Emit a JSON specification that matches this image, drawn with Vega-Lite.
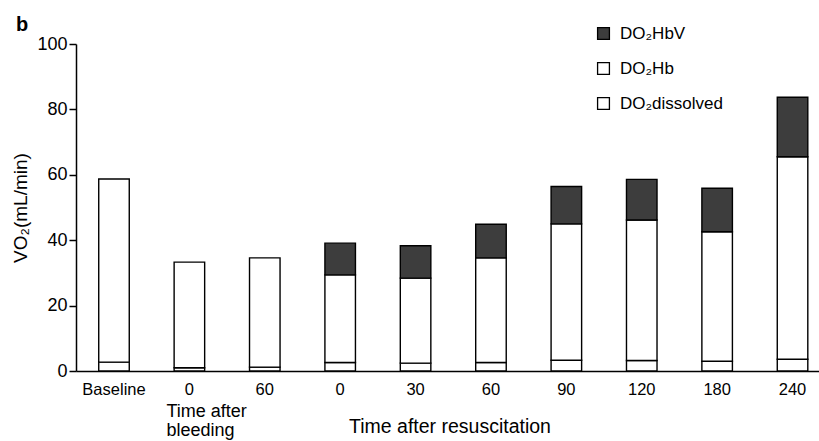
{
  "$schema": "https://vega.github.io/schema/vega-lite/v6.json",
  "width": 743,
  "height": 327,
  "autosize": {"type": "none"},
  "padding": {"left": 76, "top": 44, "right": 0, "bottom": 70},
  "background": "white",
  "config": {"view": {"stroke": null}, "font": "Liberation Sans"},
  "title": {"text": "b", "anchor": "start", "frame": "group", "dx": -60, "dy": 19, "offset": -7, "baseline": "alphabetic", "fontSize": 20, "fontWeight": "bold", "font": "Liberation Sans", "color": "black"},
  "encoding": {
    "x": {
      "field": "t", "type": "nominal", "sort": null,
      "scale": {"paddingInner": 0.595, "paddingOuter": 0.225, "align": 0.67},
      "axis": {
        "title": "Time after resuscitation",
        "labelExpr": "split(datum.label,'|')[1]",
        "labelAngle": 0, "ticks": false, "labelPadding": 10,
        "labelFontSize": 16.5, "labelColor": "black", "labelFont": "Liberation Sans",
        "domainColor": "black", "domainWidth": 1.5, "grid": false,
        "titleFontSize": 19.5, "titleFontWeight": "normal", "titleFont": "Liberation Sans", "titleColor": "black",
        "titleX": 373.5, "titleY": 61, "titleBaseline": "alphabetic", "titleAlign": "center"
      }
    }
  },
  "layer": [
    {
      "data": {"values": [
        {"t": "01|Baseline", "c": "DO₂dissolved", "v": 2.7, "k": 1},
        {"t": "01|Baseline", "c": "DO₂Hb", "v": 56.0, "k": 2},
        {"t": "02|0", "c": "DO₂dissolved", "v": 1.0, "k": 1},
        {"t": "02|0", "c": "DO₂Hb", "v": 32.3, "k": 2},
        {"t": "03|60", "c": "DO₂dissolved", "v": 1.2, "k": 1},
        {"t": "03|60", "c": "DO₂Hb", "v": 33.4, "k": 2},
        {"t": "04|0", "c": "DO₂dissolved", "v": 2.6, "k": 1},
        {"t": "04|0", "c": "DO₂Hb", "v": 26.8, "k": 2},
        {"t": "04|0", "c": "DO₂HbV", "v": 9.7, "k": 3},
        {"t": "05|30", "c": "DO₂dissolved", "v": 2.4, "k": 1},
        {"t": "05|30", "c": "DO₂Hb", "v": 26.0, "k": 2},
        {"t": "05|30", "c": "DO₂HbV", "v": 9.9, "k": 3},
        {"t": "06|60", "c": "DO₂dissolved", "v": 2.6, "k": 1},
        {"t": "06|60", "c": "DO₂Hb", "v": 32.0, "k": 2},
        {"t": "06|60", "c": "DO₂HbV", "v": 10.3, "k": 3},
        {"t": "07|90", "c": "DO₂dissolved", "v": 3.3, "k": 1},
        {"t": "07|90", "c": "DO₂Hb", "v": 41.7, "k": 2},
        {"t": "07|90", "c": "DO₂HbV", "v": 11.4, "k": 3},
        {"t": "08|120", "c": "DO₂dissolved", "v": 3.2, "k": 1},
        {"t": "08|120", "c": "DO₂Hb", "v": 43.0, "k": 2},
        {"t": "08|120", "c": "DO₂HbV", "v": 12.4, "k": 3},
        {"t": "09|180", "c": "DO₂dissolved", "v": 3.0, "k": 1},
        {"t": "09|180", "c": "DO₂Hb", "v": 39.6, "k": 2},
        {"t": "09|180", "c": "DO₂HbV", "v": 13.3, "k": 3},
        {"t": "10|240", "c": "DO₂dissolved", "v": 3.6, "k": 1},
        {"t": "10|240", "c": "DO₂Hb", "v": 61.9, "k": 2},
        {"t": "10|240", "c": "DO₂HbV", "v": 18.2, "k": 3}
      ]},
      "mark": {"type": "bar", "stroke": "black", "strokeWidth": 1.4},
      "encoding": {
        "y": {
          "field": "v", "type": "quantitative", "stack": "zero",
          "scale": {"domain": [0, 100], "nice": false},
          "axis": {
            "title": "VO₂(mL/min)", "values": [0, 20, 40, 60, 80, 100],
            "tickSize": 7, "tickColor": "black", "tickWidth": 1.5, "labelPadding": 2,
            "labelFontSize": 18, "labelColor": "black", "labelFont": "Liberation Sans",
            "domainColor": "black", "domainWidth": 1.5, "grid": false,
            "titleFontSize": 19, "titleFontWeight": "normal", "titleFont": "Liberation Sans", "titleColor": "black",
            "titleX": -50, "titleBaseline": "alphabetic"
          }
        },
        "color": {
          "field": "c", "type": "nominal",
          "scale": {"domain": ["DO₂HbV", "DO₂Hb", "DO₂dissolved"], "range": ["#3d3d3d", "#ffffff", "#ffffff"]},
          "legend": {
            "orient": "none", "legendX": 519, "legendY": -19, "title": null,
            "symbolType": "square", "symbolSize": 140, "symbolStrokeColor": "black", "symbolStrokeWidth": 1.3,
            "labelFontSize": 17, "labelFont": "Liberation Sans", "labelColor": "black",
            "labelOffset": 8, "rowPadding": 16, "padding": 0, "symbolOpacity": 1
          }
        },
        "order": {"field": "k", "type": "quantitative"}
      }
    },
    {
      "data": {"values": [{"t": "02|0", "note": "Time after\nbleeding"}]},
      "mark": {"type": "text", "align": "left", "baseline": "alphabetic", "dx": -23, "lineBreak": "\n", "lineHeight": 19, "fontSize": 18, "font": "Liberation Sans", "color": "black"},
      "encoding": {
        "y": {"datum": -14.0},
        "text": {"field": "note"}
      }
    }
  ]
}
